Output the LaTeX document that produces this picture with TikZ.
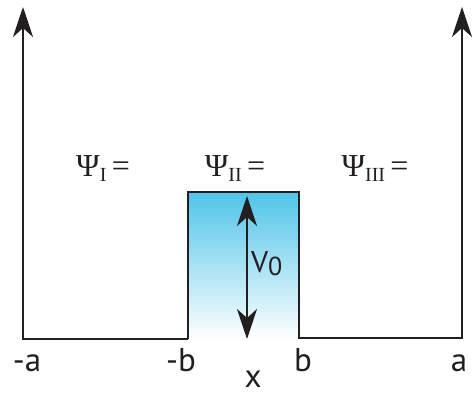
\documentclass[tikz,border=0pt]{standalone}
\usepackage{fontspec}
\setmainfont{PT Sans}
\newfontfamily\psifont{Liberation Serif}
\usetikzlibrary{arrows.meta}
\definecolor{wellblue}{RGB}{80,196,233}
\definecolor{wellline}{RGB}{35,31,32}
\newcommand{\psisub}[1]{\raisebox{-5pt}{\fontsize{20}{20}\selectfont #1}}

\begin{document}
\begin{tikzpicture}[x=1pt, y=1pt,
  wall/.style={line width=2.6pt, draw=wellline, line join=miter},
  arrow/.style={-{Stealth[length=30pt,width=20pt,inset=9pt]}, line width=2.4pt, draw=wellline},
  tick/.style={font=\fontsize{33}{34}\selectfont, text=wellline, inner sep=0pt, anchor=base},
  wave/.style={font=\psifont\fontsize{32}{33}\selectfont, text=wellline, inner sep=0pt, anchor=base}
]
  \useasboundingbox (0,0) rectangle (473,396);

  % potential profile
  \coordinate (topL) at (23,389);
  \coordinate (botL) at (23,57);
  \coordinate (negbB) at (188,57);
  \coordinate (negbT) at (188,204);
  \coordinate (posbT) at (299,204);
  \coordinate (posbB) at (299,58);
  \coordinate (botR) at (462,58);
  \coordinate (topR) at (462,389);

  \shade[top color=wellblue, middle color=wellblue!78, bottom color=white]
    (negbB) rectangle (posbT);
  \draw[wall] (negbB) -- (negbT) -- (posbT) -- (posbB) -- (botR);
  \draw[arrow] (negbB) -- (botL) -- (topL);
  \draw[arrow] (posbB) -- (botR) -- (topR);

  % barrier height
  \coordinate (vtop) at (247,200);
  \coordinate (vbot) at (247,57);
  \draw[arrow, {Stealth[length=30pt,width=20pt,inset=9pt]}-{Stealth[length=30pt,width=20pt,inset=9pt]}] (vtop) -- (vbot);
  \node[font=\fontsize{30}{31}\selectfont, text=wellline, inner sep=0pt, anchor=base west] (vzero) at (251,123)
    {V\raisebox{-3pt}{\fontsize{26}{26}\selectfont 0}};

  % axis labels
  \node[tick] (lblnega) at (27,25) {-a};
  \node[tick] (lblnegb) at (181,25) {-b};
  \node[tick] (lblb) at (303,25) {b};
  \node[tick] (lbla) at (459,25) {a};
  \node[tick] (lblx) at (253,9) {x};

  % wave functions
  \node[wave] (psione) at (103,219) {Ψ\psisub{I}\,=};
  \node[wave] (psitwo) at (235,219) {Ψ\psisub{II}\,=};
  \node[wave] (psithree) at (375,219) {Ψ\psisub{III}\,=};
\end{tikzpicture}
\end{document}
